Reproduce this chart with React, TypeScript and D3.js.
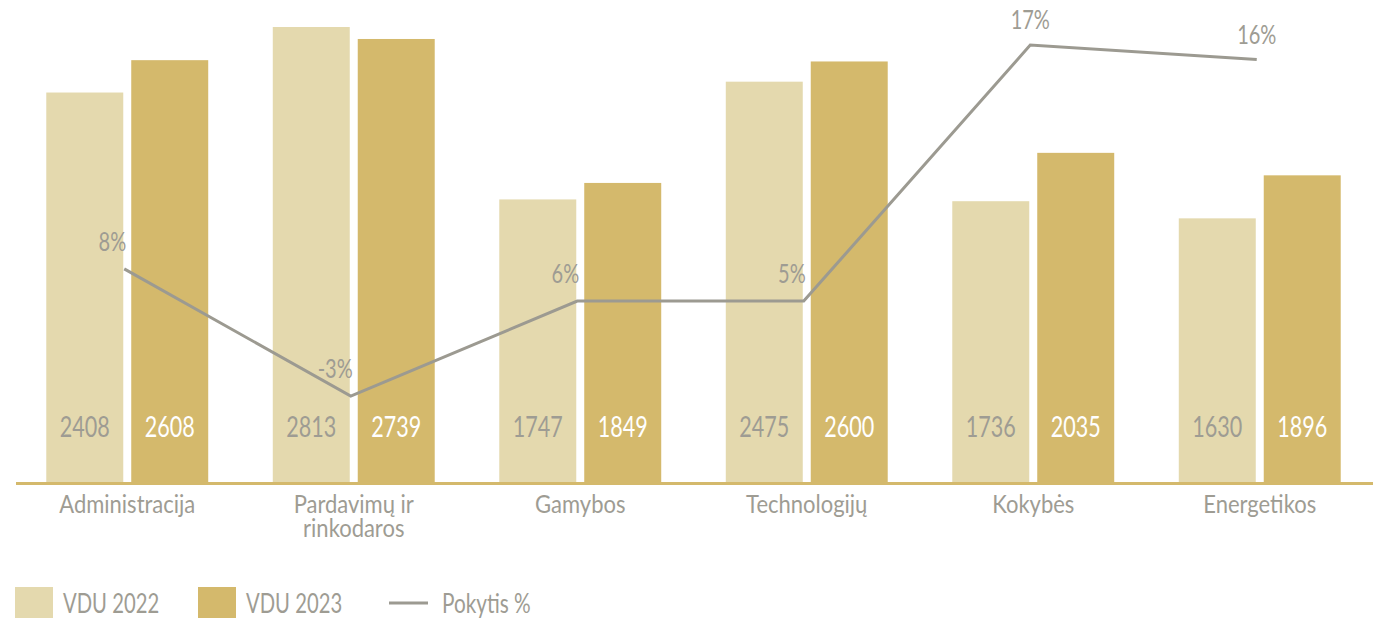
import React from "react";
import * as d3 from "d3";

const categories = ["Administracija", "Pardavimų ir rinkodaros", "Gamybos", "Technologijų", "Kokybės", "Energetikos"];
const categoryLines = [["Administracija"], ["Pardavimų ir", "rinkodaros"], ["Gamybos"], ["Technologijų"], ["Kokybės"], ["Energetikos"]];
const vdu2022 = [2408, 2813, 1747, 2475, 1736, 1630];
const vdu2023 = [2608, 2739, 1849, 2600, 2035, 1896];
// line position as drawn in the picture (secondary axis), labels as printed
const pokytis = [3.3, -4.6, 1.3, 1.3, 17.2, 16.3];
const pokytisLabels = ["8%", "-3%", "6%", "5%", "17%", "16%"];
const seriesNames = ["VDU 2022", "VDU 2023", "Pokytis %"];

const W = 1379;
const H = 618;
const FONT = "Lato, 'DejaVu Sans Condensed', sans-serif";
const light = "#e4d9ae";
const dark = "#d4b96c";
const grey = "#9c9a91";
const textGrey = "#9e9c93";

type TxtProps = {
  x: number;
  y: number;
  size: number;
  sx?: number;
  fill?: string;
  anchor?: "start" | "middle" | "end";
  children: React.ReactNode;
};

// Lato squeezed horizontally to get the condensed look
function Txt({ x, y, size, sx = 0.77, fill = textGrey, anchor = "start", children }: TxtProps) {
  return (
    <g transform={`translate(${x},${y}) scale(${sx},1)`}>
      <text textAnchor={anchor} fontSize={size} fontWeight={400} fill={fill}>
        {children}
      </text>
    </g>
  );
}

export default function App() {
  const x0 = d3.scaleBand<string>().domain(categories).range([14, 1373]).paddingInner(0.285).paddingOuter(0.1425);
  const x1 = d3.scaleBand<string>().domain(["2022", "2023"]).range([0, x0.bandwidth()]).paddingInner(0.094);
  const y = d3.scaleLinear().domain([0, 2980]).range([482, 0]);
  const y2 = d3.scaleLinear().domain([-10, 20]).range([483, 0]);

  const cx = (c: string) => (x0(c) as number) + x0.bandwidth() / 2;
  const line = d3
    .line<number>()
    .x((_, i) => cx(categories[i]) - 3)
    .y((d) => y2(d));

  return (
    <svg width={W} height={H} style={{ position: "absolute", left: 0, top: 0 }} fontFamily={FONT}>
      {categories.map((c, i) => (
        <g key={c} transform={`translate(${x0(c)},0)`}>
          <rect x={x1("2022")} y={y(vdu2022[i])} width={x1.bandwidth()} height={y(0) - y(vdu2022[i])} fill={light} />
          <rect x={x1("2023")} y={y(vdu2023[i])} width={x1.bandwidth()} height={y(0) - y(vdu2023[i])} fill={dark} />
          <Txt x={(x1("2022") as number) + x1.bandwidth() / 2} y={y(0) - 45} anchor="middle" size={28}>
            {vdu2022[i]}
          </Txt>
          <Txt x={(x1("2023") as number) + x1.bandwidth() / 2} y={y(0) - 45} anchor="middle" size={28} fill="#fff">
            {vdu2023[i]}
          </Txt>
          <g transform={`translate(${x0.bandwidth() / 2},513) scale(0.88,1)`}>
            <text textAnchor="middle" fontSize={25} fill={textGrey}>
              {categoryLines[i].map((l, j) => (
                <tspan key={j} x={0} dy={j === 0 ? 0 : 24}>
                  {l}
                </tspan>
              ))}
            </text>
          </g>
        </g>
      ))}

      <line x1={16} x2={1373} y1={483.5} y2={483.5} stroke={dark} strokeWidth={3} />

      <path d={line(pokytis) ?? ""} fill="none" stroke={grey} strokeWidth={3} strokeLinejoin="miter" />
      {pokytis.map((v, i) => {
        const px = cx(categories[i]) - 3;
        const top = i >= 4;
        return (
          <Txt
            key={i}
            x={top ? px : px + 2}
            y={y2(v) - (top ? 16 : 18)}
            anchor={top ? "middle" : "end"}
            size={26}
          >
            {pokytisLabels[i]}
          </Txt>
        );
      })}

      <g>
        <rect x={15} y={587} width={38} height={38} fill={light} />
        <Txt x={63} y={613} size={27} sx={0.75}>{seriesNames[0]}</Txt>
        <rect x={198} y={587} width={38} height={38} fill={dark} />
        <Txt x={246} y={613} size={27} sx={0.75}>{seriesNames[1]}</Txt>
        <line x1={389} x2={428} y1={603} y2={603} stroke={grey} strokeWidth={3} />
        <Txt x={442} y={613} size={27}>{seriesNames[2]}</Txt>
      </g>
    </svg>
  );
}
